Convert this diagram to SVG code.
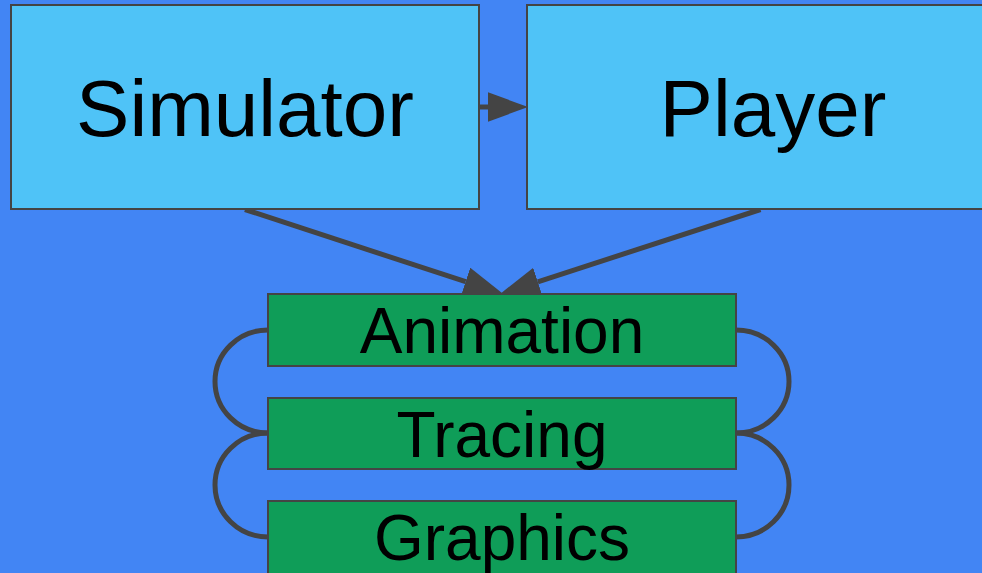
<svg xmlns="http://www.w3.org/2000/svg" width="982" height="573" viewBox="0 0 982 573">
  <style>
    .top { fill: #4fc3f7; stroke: #444444; stroke-width: 2; }
    .mod { fill: #0f9d58; stroke: #444444; stroke-width: 2; }
    .big { font-family: "Liberation Sans", Arial, sans-serif; font-size: 80px; fill: #000000; text-anchor: middle; }
    .lbl { font-family: "Liberation Sans", Arial, sans-serif; font-size: 64px; fill: #000000; text-anchor: middle; }
    .edge { fill: none; stroke: #444444; stroke-width: 5; }
  </style>
  <defs>
    <marker id="arrow" markerUnits="userSpaceOnUse" markerWidth="40" markerHeight="30" viewBox="0 0 38 28" refX="0" refY="14" orient="auto">
      <path d="M0,0 L38,14 L0,28 z" fill="#444444"/>
    </marker>
  </defs>
  <rect x="0" y="0" width="982" height="573" fill="#4285f4"/>
  <g id="connectors">
    <line class="edge" x1="479" y1="107" x2="488" y2="107" marker-end="url(#arrow)"/>
    <line class="edge" x1="245" y1="209.5" x2="465.6" y2="281.7" marker-end="url(#arrow)"/>
    <line class="edge" x1="760.5" y1="209.5" x2="537.8" y2="281.8" marker-end="url(#arrow)"/>
    <path class="edge" d="M268,330 A53,51.5 0 0 0 268,433"/>
    <path class="edge" d="M268,433 A53,52 0 0 0 268,537"/>
    <path class="edge" d="M736,330 A53,51.5 0 0 1 736,433"/>
    <path class="edge" d="M736,433 A53,52 0 0 1 736,537"/>
  </g>
  <g id="simulator">
    <rect class="top" x="11" y="5" width="468" height="204"/>
    <text class="big" x="245" y="136">Simulator</text>
  </g>
  <g id="player">
    <rect class="top" x="527" y="5" width="468" height="204"/>
    <text class="big" x="773" y="136">Player</text>
  </g>
  <g id="animation">
    <rect class="mod" x="268" y="294" width="468" height="72"/>
    <text class="lbl" x="502" y="353">Animation</text>
  </g>
  <g id="tracing">
    <rect class="mod" x="268" y="398" width="468" height="71"/>
    <text class="lbl" x="502" y="457">Tracing</text>
  </g>
  <g id="graphics">
    <rect class="mod" x="268" y="501" width="468" height="80"/>
    <text class="lbl" x="502" y="560">Graphics</text>
  </g>
</svg>
